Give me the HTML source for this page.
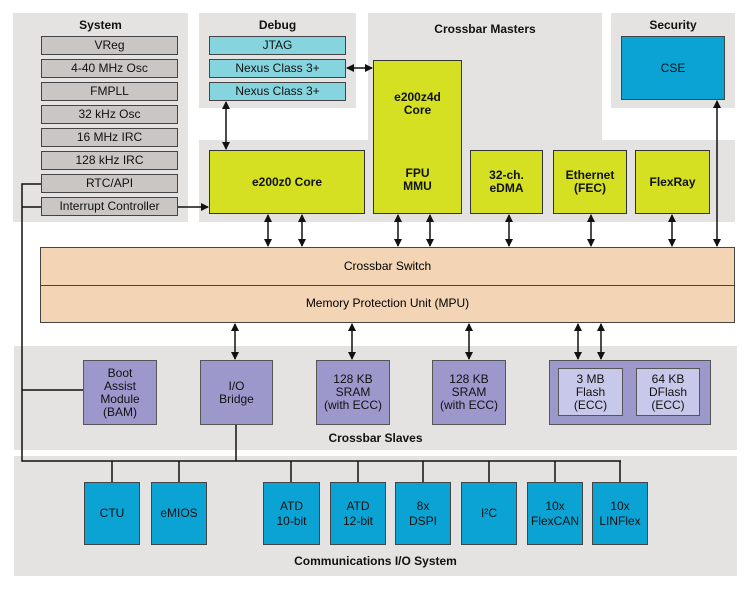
<!DOCTYPE html>
<html><head><meta charset="utf-8"><style>
body{margin:0;width:750px;height:592px;background:#fff;position:relative;overflow:hidden;font-family:"Liberation Sans",sans-serif;}
div{position:absolute;box-sizing:border-box;}
.p{background:#e4e3e1;}
.t{font-weight:bold;font-size:12px;text-align:center;color:#111;}
.g{background:#c9c6c3;border:1.5px solid #444;font-size:12px;text-align:center;line-height:16px;color:#111;}
.c{background:#86d5de;border:1.5px solid #444;font-size:12px;text-align:center;line-height:16px;color:#111;}
.y{background:#d4e021;border:1.5px solid #333;font-size:12px;font-weight:bold;text-align:center;color:#111;display:flex;align-items:center;justify-content:center;line-height:13px;}
.v{background:#9c98cc;border:1.5px solid #555;font-size:12px;text-align:center;color:#111;display:flex;align-items:center;justify-content:center;line-height:13px;}
.b{background:#0aa3d4;border:1.5px solid #444;font-size:12px;text-align:center;color:#111;display:flex;align-items:center;justify-content:center;line-height:15px;}
</style></head><body>
<div class="p" style="left:13px;top:13px;width:175px;height:209px"></div>
<div class="p" style="left:199px;top:13px;width:157px;height:95px"></div>
<div class="p" style="left:368px;top:13px;width:234px;height:209px"></div>
<div class="p" style="left:611px;top:13px;width:124px;height:95px"></div>
<div class="p" style="left:199px;top:140px;width:536px;height:82px"></div>
<div class="p" style="left:14px;top:346px;width:723px;height:104px"></div>
<div class="p" style="left:14px;top:456px;width:723px;height:120px"></div>
<div class="t" style="left:13px;top:18px;width:175px">System</div>
<div class="t" style="left:199px;top:18px;width:157px">Debug</div>
<div class="t" style="left:368px;top:22px;width:234px">Crossbar Masters</div>
<div class="t" style="left:611px;top:18px;width:124px">Security</div>
<div class="t" style="left:14px;top:431px;width:723px">Crossbar Slaves</div>
<div class="t" style="left:14px;top:554px;width:723px">Communications I/O System</div>
<div class="g" style="left:41px;top:36px;width:137px;height:19px">VReg</div>
<div class="g" style="left:41px;top:59px;width:137px;height:19px">4-40 MHz Osc</div>
<div class="g" style="left:41px;top:82px;width:137px;height:19px">FMPLL</div>
<div class="g" style="left:41px;top:105px;width:137px;height:19px">32 kHz Osc</div>
<div class="g" style="left:41px;top:128px;width:137px;height:19px">16 MHz IRC</div>
<div class="g" style="left:41px;top:151px;width:137px;height:19px">128 kHz IRC</div>
<div class="g" style="left:41px;top:174px;width:137px;height:19px">RTC/API</div>
<div class="g" style="left:41px;top:197px;width:137px;height:19px">Interrupt Controller</div>
<div class="c" style="left:209px;top:36px;width:137px;height:19px">JTAG</div>
<div class="c" style="left:209px;top:59px;width:137px;height:19px">Nexus Class 3+</div>
<div class="c" style="left:209px;top:82px;width:137px;height:19px">Nexus Class 3+</div>
<div class="b" style="left:621px;top:36px;width:104px;height:64px">CSE</div>
<div class="y" style="left:209px;top:150px;width:156px;height:64px">e200z0 Core</div>
<div class="y" style="left:373px;top:60px;width:89px;height:154px;display:block;"><div style="position:absolute;top:30px;width:100%">e200z4d<br>Core</div><div style="position:absolute;top:106px;width:100%">FPU<br>MMU</div></div>
<div class="y" style="left:470px;top:150px;width:73px;height:64px">32-ch.<br>eDMA</div>
<div class="y" style="left:553px;top:150px;width:74px;height:64px">Ethernet<br>(FEC)</div>
<div class="y" style="left:635px;top:150px;width:75px;height:64px">FlexRay</div>
<div style="left:40px;top:247px;width:695px;height:39px;background:#f3d4b5;border:1.5px solid #444;font-size:12px;text-align:center;line-height:36px">Crossbar Switch</div>
<div style="left:40px;top:285px;width:695px;height:38px;background:#f3d4b5;border:1.5px solid #444;font-size:12px;text-align:center;line-height:35px">Memory Protection Unit (MPU)</div>
<div class="v" style="left:83px;top:360px;width:74px;height:65px">Boot<br>Assist<br>Module<br>(BAM)</div>
<div class="v" style="left:200px;top:360px;width:73px;height:65px">I/O<br>Bridge</div>
<div class="v" style="left:316px;top:360px;width:74px;height:65px">128 KB<br>SRAM<br>(with ECC)</div>
<div class="v" style="left:432px;top:360px;width:74px;height:65px">128 KB<br>SRAM<br>(with ECC)</div>
<div class="v" style="left:549px;top:360px;width:162px;height:65px"></div>
<div class="v" style="left:558px;top:368px;width:65px;height:48px;background:#c8c8ea">3 MB<br>Flash<br>(ECC)</div>
<div class="v" style="left:636px;top:368px;width:64px;height:48px;background:#c8c8ea">64 KB<br>DFlash<br>(ECC)</div>
<div class="b" style="left:84px;top:482px;width:56px;height:63px">CTU</div>
<div class="b" style="left:151px;top:482px;width:56px;height:63px">eMIOS</div>
<div class="b" style="left:263px;top:482px;width:57px;height:63px">ATD<br>10-bit</div>
<div class="b" style="left:330px;top:482px;width:56px;height:63px">ATD<br>12-bit</div>
<div class="b" style="left:395px;top:482px;width:56px;height:63px">8x<br>DSPI</div>
<div class="b" style="left:461px;top:482px;width:56px;height:63px">I²C</div>
<div class="b" style="left:527px;top:482px;width:56px;height:63px">10x<br>FlexCAN</div>
<div class="b" style="left:592px;top:482px;width:56px;height:63px">10x<br>LINFlex</div>
<svg width="750" height="592" style="position:absolute;left:0;top:0">
<defs><marker id="a" markerWidth="8" markerHeight="8" refX="7" refY="4" orient="auto-start-reverse" markerUnits="userSpaceOnUse"><path d="M0,0L8,4L0,8z" fill="#111"/></marker></defs>
<g stroke="#111" stroke-width="1.5" fill="none">
<path d="M41,184H22V461H621M41,207H22M83,390H22"/>
<path d="M236,425V461"/>
<path d="M112,461V482M179,461V482M291,461V482M358,461V482M423,461V482M489,461V482M555,461V482M620,461V482"/>
<path d="M178,207H208" marker-end="url(#a)"/>
<path d="M226,102V149" marker-start="url(#a)" marker-end="url(#a)"/>
<path d="M347,68H372" marker-start="url(#a)" marker-end="url(#a)"/>
<g marker-start="url(#a)" marker-end="url(#a)">
<path d="M268,215V246"/><path d="M302,215V246"/><path d="M398,215V246"/><path d="M430,215V246"/><path d="M509,215V246"/><path d="M591,215V246"/><path d="M672,215V246"/><path d="M717,101V246"/>
<path d="M235,324V359"/><path d="M352,324V359"/><path d="M469,324V359"/><path d="M578,324V359"/><path d="M601,324V359"/>
</g></g></svg>
</body></html>
